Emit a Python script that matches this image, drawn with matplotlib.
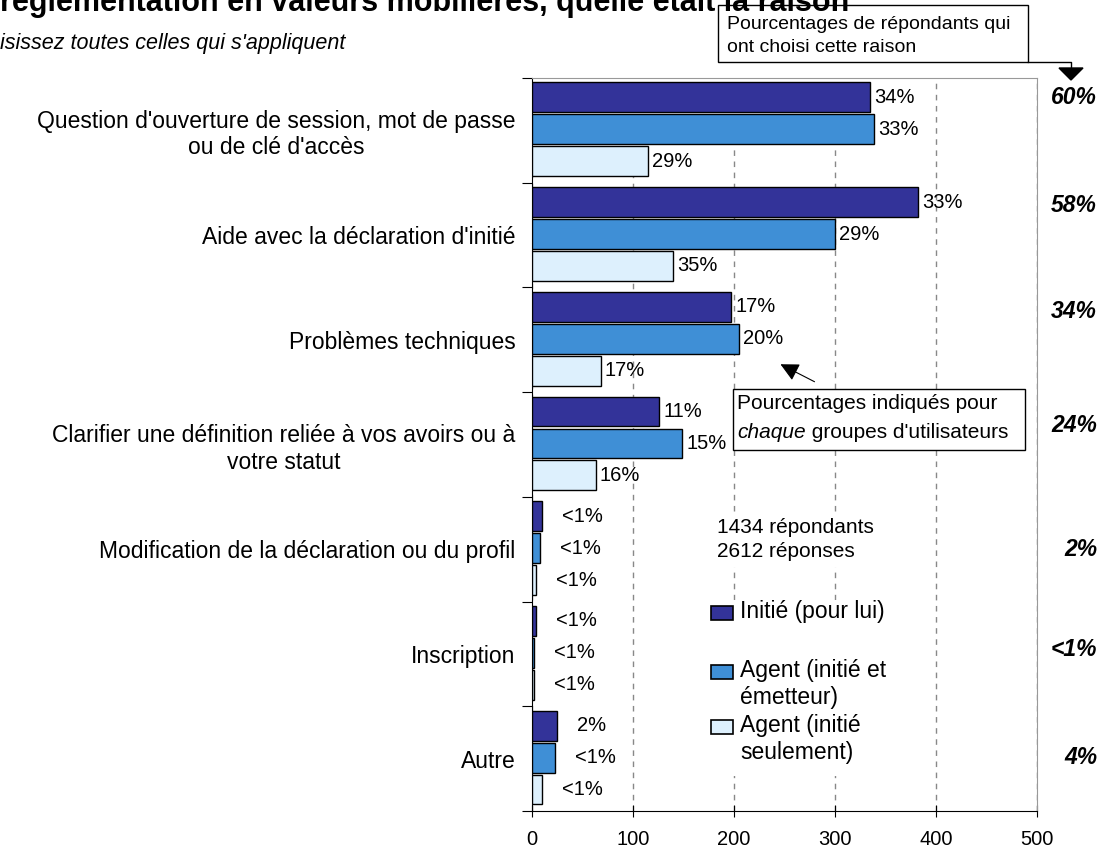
import numpy as np
import matplotlib
matplotlib.use("Agg")
import matplotlib.pyplot as plt
from matplotlib.patches import Rectangle, Polygon
from matplotlib.lines import Line2D
from matplotlib.text import Annotation

plt.rcParams['font.family'] = ['Liberation Sans', 'DejaVu Sans']

# DATA

categories = [
    "Question d'ouverture de session, mot de passe\nou de clé d'accès",
    "Aide avec la déclaration d'initié",
    "Problèmes techniques",
    "Clarifier une définition reliée à vos avoirs ou à\nvotre statut",
    "Modification de la déclaration ou du profil",
    "Inscription",
    "Autre",
]
series_names = ["Initié (pour lui)", "Agent (initié et\németteur)", "Agent (initié\nseulement)"]
series_colors = ["#333399", "#3f8fd6", "#ddf0fd"]

initie = [335, 382, 197, 126, 10, 4, 25]
agent_ie = [339, 300, 205, 149, 8, 1.5, 23]
agent_seul = [115, 140, 68, 63, 4, 1.5, 10]

pct_initie = ["34%", "33%", "17%", "11%", "<1%", "<1%", "2%"]
pct_agent_ie = ["33%", "29%", "20%", "15%", "<1%", "<1%", "<1%"]
pct_agent_seul = ["29%", "35%", "17%", "16%", "<1%", "<1%", "<1%"]

totals = ["60%", "58%", "34%", "24%", "2%", "<1%", "4%"]

xticks = [0, 100, 200, 300, 400, 500]

title = "réglementation en valeurs mobilières, quelle était la raison"
subtitle = "isissez toutes celles qui s'appliquent"
note = "1434 répondants\n2612 réponses"
box1_text = "Pourcentages de répondants qui\nont choisi cette raison"

# LAYOUT helpers (image pixels, origin top-left)
W, H = 1108, 852


def fx(x):
    return x / W


def fy(y):
    return 1 - y / H


fig = plt.figure(figsize=(W / 100, H / 100), dpi=100)
ax = fig.add_axes([fx(532), fy(811), (1037 - 532) / W, (811 - 78) / H])

series = [initie, agent_ie, agent_seul]
labels = [pct_initie, pct_agent_ie, pct_agent_seul]
offsets = [0.185, 0.49, 0.795]
n = len(categories)

for vals, labs, off, col in zip(series, labels, offsets, series_colors):
    ypos = np.arange(n) + off
    ax.barh(ypos, vals, height=0.285, color=col, edgecolor="black", linewidth=1.0, zorder=3)
    for y, v, lab in zip(ypos, vals, labs):
        dx = 4 if v > 50 else 20
        ax.text(v + dx, y, lab, va="center", ha="left", fontsize=14.5, zorder=4)

ax.set_xlim(0, 500)
ax.set_ylim(n, 0)
ax.set_xticks(xticks)
ax.set_xticklabels([str(t) for t in xticks])
ax.tick_params(axis="x", direction="inout", length=8, labelsize=14.5, pad=10)

ax.set_yticks(np.arange(n + 1))
ax.set_yticklabels([])
ax.tick_params(axis="y", which="major", direction="out", length=7)
ax.set_yticks(np.arange(n) + 0.5, minor=True)
ax.set_yticklabels(categories, minor=True, fontsize=16.5, multialignment="center")
ax.tick_params(axis="y", which="minor", length=0, pad=12)

ax.xaxis.grid(True, linestyle=(0, (4, 4)), color="#888888", linewidth=1)
ax.set_axisbelow(True)
ax.spines["top"].set_color("#999999")
ax.spines["right"].set_color("#999999")

# title / subtitle (cut at the edges like the original)
fig.text(0, fy(11), title, fontsize=22, weight="bold", va="baseline", ha="left")
fig.text(0, fy(43), subtitle, fontsize=15.5, style="italic", va="center", ha="left")

# totals on the right
total_ypix = [98, 205, 312, 425, 550, 650, 757]
for t, yp in zip(totals, total_ypix):
    fig.text(fx(1097), fy(yp), t, ha="right", va="center", weight="bold", style="italic", fontsize=16.5)

# respondents note
ax.text(fx(717), fy(539.5), note, transform=fig.transFigure, fontsize=15, va="center", ha="left",
        linespacing=1.39, zorder=5,
        bbox=dict(boxstyle="square,pad=0.25", fc="white", ec="none"))

# legend drawn by hand (white area behind it)
fig.add_artist(Rectangle((fx(705), fy(776)), (895 - 705) / W, (776 - 600) / H,
                         transform=fig.transFigure, fc="white", ec="none", zorder=2))
legend_ypix = [613, 672, 727]
for name, col, yp in zip(series_names, series_colors, legend_ypix):
    fig.add_artist(Rectangle((fx(711), fy(yp + 7)), 22 / W, 14 / H, transform=fig.transFigure,
                             fc=col, ec="black", lw=1.2, zorder=3))
    fig.text(fx(740), fy(yp - 13), name, fontsize=16.5, va="top", ha="left", linespacing=1.2, zorder=3)

# top-right annotation box
fig.add_artist(Rectangle((fx(718), fy(62)), (1028 - 718) / W, (62 - 5) / H, transform=fig.transFigure,
                         fc="white", ec="black", lw=1.0, zorder=3))
fig.text(fx(727), fy(36), box1_text, fontsize=14, va="center", ha="left", linespacing=1.44, zorder=4)
fig.add_artist(Line2D([fx(1028), fx(1071), fx(1071)], [fy(62), fy(62), fy(70)],
                      transform=fig.transFigure, color="black", lw=1.0, zorder=4))
fig.add_artist(Polygon([(fx(1059), fy(68)), (fx(1083), fy(68)), (fx(1071), fy(80))], closed=True,
                       transform=fig.transFigure, fc="black", ec="black", zorder=4))

# middle annotation box
fig.add_artist(Rectangle((fx(733), fy(450)), (1025 - 733) / W, (450 - 389) / H, transform=fig.transFigure,
                         fc="white", ec="black", lw=1.0, zorder=5))
fig.text(fx(737), fy(404), "Pourcentages indiqués pour", fontsize=15, va="center", ha="left", zorder=6)
t1 = fig.text(fx(737), fy(432), "chaque", fontsize=15, style="italic", va="center", ha="left", zorder=6)
rest = Annotation(" groupes d'utilisateurs", xy=(1, 0), xycoords=t1, va="bottom", ha="left", fontsize=15)
rest.set_zorder(6)
fig.add_artist(rest)
plt.annotate("", xy=(778, H - 363), xycoords="figure pixels", xytext=(817, H - 383),
             textcoords="figure pixels",
             arrowprops=dict(arrowstyle="-|>", color="black", lw=0.8, mutation_scale=28))

fig.savefig("out.png", dpi=100)
